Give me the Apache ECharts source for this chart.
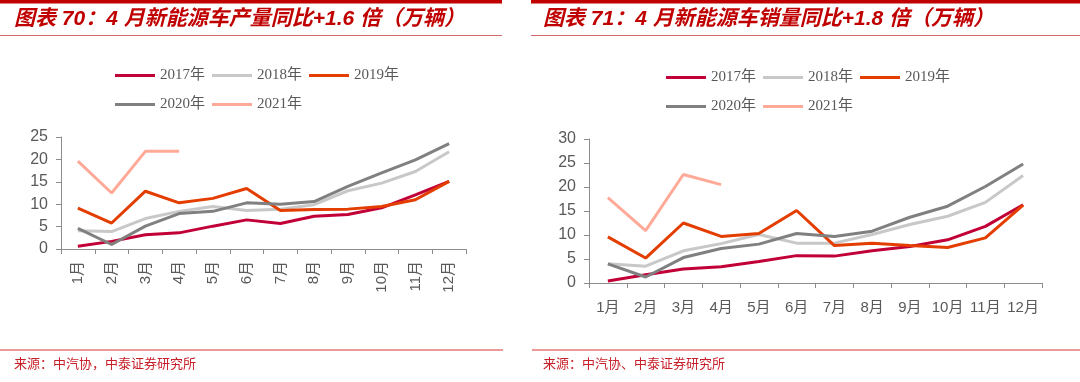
<!DOCTYPE html>
<html><head><meta charset="utf-8">
<script src="https://cdn.jsdelivr.net/npm/echarts@6/dist/echarts.min.js"></script>
<style>html,body{margin:0;padding:0;background:#fff}#c{width:1080px;height:382px}</style>
</head><body><div id="c"></div>
<script>
var months = ['1月','2月','3月','4月','5月','6月','7月','8月','9月','10月','11月','12月'];
var years = ['2017年','2018年','2019年','2020年','2021年'];
var colors = ['#C20038','#C8C8C8','#E43D00','#808080','#FFAA98'];
// 产量 (production)
var prod2017 = [0.6,1.7,3.2,3.6,5.1,6.5,5.7,7.3,7.7,9.2,12.1,15.1];
var prod2018 = [4.1,3.9,6.8,8.4,9.5,8.6,8.9,9.9,13.0,14.7,17.3,21.7];
var prod2019 = [9.1,5.8,12.9,10.3,11.3,13.5,8.6,8.8,8.9,9.5,11.0,15.1];
var prod2020 = [4.6,1.0,5.1,7.9,8.4,10.3,10.0,10.6,14.0,17.0,19.9,23.5];
var prod2021 = [19.6,12.5,21.8,21.8];
// 销量 (sales)
var sale2017 = [0.4,1.7,2.9,3.4,4.5,5.7,5.6,6.7,7.6,9.0,11.8,16.3];
var sale2018 = [4.0,3.5,6.7,8.2,10.1,8.3,8.3,10.1,12.2,13.9,16.8,22.4];
var sale2019 = [9.6,5.2,12.5,9.7,10.3,15.1,7.8,8.3,7.8,7.4,9.4,16.2];
var sale2020 = [4.0,1.25,5.3,7.2,8.1,10.3,9.7,10.8,13.7,16.0,20.1,24.8];
var sale2021 = [17.8,10.9,22.6,20.5];
var prodTicks = {min:0,max:25,interval:5};
var saleTicks = {min:0,max:30,interval:5};
var titleL = '图表 70：4 月新能源车产量同比+1.6 倍（万辆）';
var titleR = '图表 71：4 月新能源车销量同比+1.8 倍（万辆）';
var srcL = '来源：中汽协，中泰证券研究所';
var srcR = '来源：中汽协、中泰证券研究所';

var prodData = [prod2017,prod2018,prod2019,prod2020,prod2021];
var saleData = [sale2017,sale2018,sale2019,sale2020,sale2021];

var axisGray = '#8C8C8C';
var labelGray = '#595959';
var series = [];
[prodData, saleData].forEach(function(set, gi){
  set.forEach(function(d, i){
    series.push({
      name: years[i], type:'line', xAxisIndex:gi, yAxisIndex:gi,
      data:d, symbol:'none', smooth:false,
      lineStyle:{width:3, color:colors[i]}, itemStyle:{color:colors[i]},
      z: 2+i
    });
  });
});

function legend(left, top, names){
  return {left:left, top:top, data:names, icon:'rect', itemWidth:40, itemHeight:3, itemGap:7,
    textStyle:{fontFamily:'Liberation Serif, Noto Sans CJK SC', fontSize:15, color:labelGray},
    selectedMode:false};
}
function yAx(gi, t){
  return {type:'value', gridIndex:gi, min:t.min, max:t.max, interval:t.interval,
    axisLine:{show:true, lineStyle:{color:axisGray, width:1}},
    axisTick:{show:true, length:5, inside:false, lineStyle:{color:axisGray}},
    splitLine:{show:false},
    axisLabel:{fontFamily:'Liberation Sans, Arial', fontSize:16, color:labelGray, margin:13}};
}
function xAx(gi, rot){
  return {type:'category', gridIndex:gi, data:months, boundaryGap:true,
    axisLine:{show:true, lineStyle:{color:axisGray, width:1}},
    axisTick:{show:true, length:5, interval:0, lineStyle:{color:axisGray}},
    axisLabel:{interval:0, rotate:rot, fontFamily:'Liberation Sans, Noto Sans CJK SC', fontSize:15, color:labelGray, margin: rot ? 12 : 17}};
}
var titleStyle = {fontFamily:'Liberation Sans, Noto Sans CJK SC', fontSize:21, fontWeight:'bold', fontStyle:'italic', fill:'#C00000'};
var srcStyle = {fontFamily:'Noto Sans CJK SC', fontSize:13, fill:'#C8202A'};

var chart = echarts.init(document.getElementById('c'));
chart.setOption({
  animation:false,
  grid:[
    {left:61, top:137, width:405, height:112},
    {left:589, top:139, width:453, height:144}
  ],
  xAxis:[xAx(0,90), xAx(1,0)],
  yAxis:[yAx(0,prodTicks), yAx(1,saleTicks)],
  legend:[
    legend(110, 63, years.slice(0,3)),
    legend(110, 92, years.slice(3)),
    legend(661, 65, years.slice(0,3)),
    legend(661, 94, years.slice(3))
  ],
  graphic:[
    {type:'rect', shape:{x:0,y:0,width:502,height:3.5}, style:{fill:'#C00000'}},
    {type:'rect', shape:{x:531,y:0,width:549,height:3.5}, style:{fill:'#C00000'}},
    {type:'rect', shape:{x:0,y:35,width:502,height:1}, style:{fill:'#D46A6A'}},
    {type:'rect', shape:{x:531,y:35,width:549,height:1}, style:{fill:'#D46A6A'}},
    {type:'text', left:14, top:9, style:Object.assign({text:titleL}, titleStyle)},
    {type:'text', left:543, top:9, style:Object.assign({text:titleR}, titleStyle)},
    {type:'rect', shape:{x:0,y:349,width:503,height:2}, style:{fill:'#EB9A9A'}},
    {type:'rect', shape:{x:532,y:349,width:548,height:2}, style:{fill:'#EB9A9A'}},
    {type:'text', left:14, top:357, style:Object.assign({text:srcL}, srcStyle)},
    {type:'text', left:543, top:357, style:Object.assign({text:srcR}, srcStyle)}
  ],
  series: series
});
</script></body></html>
